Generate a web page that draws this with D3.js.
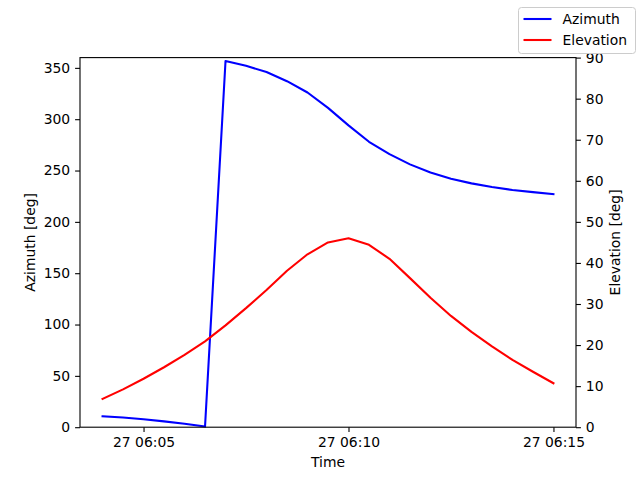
<!DOCTYPE html>
<html><head><meta charset="utf-8">
<script src="https://cdn.jsdelivr.net/npm/d3@7"></script>
<style>body{margin:0;background:#fff}svg{font-family:"DejaVu Sans",sans-serif}</style>
</head><body><svg id="c" width="640" height="480"></svg>
<script>
const startTime = "2024-01-27T06:04:00Z";
const stepSeconds = 30;
const azimuth = [10.6, 9.4, 7.8, 5.7, 3.4, 0.6, 356.7, 352, 346, 337, 326, 311, 294, 278, 266, 256, 248, 242, 237.5, 234, 231, 229, 227];
const elevation = [6.9, 9.2, 11.8, 14.6, 17.6, 20.9, 24.8, 29, 33.4, 38.1, 42.1, 45, 46, 44.4, 41, 36.3, 31.5, 27.1, 23.2, 19.7, 16.4, 13.5, 10.7];
const azTicks = [0, 50, 100, 150, 200, 250, 300, 350];
const elTicks = [0, 10, 20, 30, 40, 50, 60, 70, 80, 90];
const timeTickLabels = ["2024-01-27T06:05:00Z", "2024-01-27T06:10:00Z", "2024-01-27T06:15:00Z"];
const seriesNames = ["Azimuth", "Elevation"];
const seriesColors = ["#0000ff", "#ff0000"];

const t0 = new Date(startTime).getTime();
const times = azimuth.map((_, i) => new Date(t0 + i * stepSeconds * 1000));
const svg = d3.select("#c");
const L = 80, R = 576, T = 57.6, B = 427.2;
const span = times[times.length - 1] - times[0];
const x = d3.scaleUtc().domain([new Date(+times[0] - span * 0.05), new Date(+times[times.length - 1] + span * 0.05)]).range([L, R]);
const yA = d3.scaleLinear().domain([0, 360]).range([B, T]);
const yE = d3.scaleLinear().domain([0, 90]).range([B, T]);
const fs = "13.9px";

const lineA = d3.line().x((d, i) => x(times[i])).y(d => yA(d));
const lineE = d3.line().x((d, i) => x(times[i])).y(d => yE(d));
svg.append("path").attr("d", lineA(azimuth)).attr("fill", "none").attr("stroke", seriesColors[0]).attr("stroke-width", 2.08).attr("stroke-linejoin", "round").attr("stroke-linecap", "square");
svg.append("path").attr("d", lineE(elevation)).attr("fill", "none").attr("stroke", seriesColors[1]).attr("stroke-width", 2.08).attr("stroke-linejoin", "round").attr("stroke-linecap", "square");

function styleAxis(g) {
  g.select(".domain").remove();
  g.selectAll(".tick line").attr("stroke", "#000").attr("stroke-width", 1.1);
  g.selectAll(".tick text").attr("font-size", fs).attr("fill", "#000").attr("font-family", "DejaVu Sans");
}
const xAx = svg.append("g").attr("transform", `translate(0,${B})`)
  .call(d3.axisBottom(x).tickValues(timeTickLabels.map(s => new Date(s))).tickFormat(d3.utcFormat("%d %H:%M")).tickSize(4.9).tickPadding(4.9));
styleAxis(xAx);
const yAx = svg.append("g").attr("transform", `translate(${L},0)`)
  .call(d3.axisLeft(yA).tickValues(azTicks).tickSize(4.9).tickPadding(4.9));
styleAxis(yAx);
const yEx = svg.append("g").attr("transform", `translate(${R},0)`)
  .call(d3.axisRight(yE).tickValues(elTicks).tickSize(4.9).tickPadding(4.9));
styleAxis(yEx);

svg.append("rect").attr("x", L).attr("y", T).attr("width", R - L).attr("height", B - T).attr("fill", "none").attr("stroke", "#000").attr("stroke-width", 1.1);

svg.append("text").attr("x", (L + R) / 2).attr("y", 467).attr("text-anchor", "middle").attr("font-size", fs).text("Time");
svg.append("text").attr("transform", `translate(35,${(T + B) / 2}) rotate(-90)`).attr("text-anchor", "middle").attr("font-size", fs).text("Azimuth [deg]");
svg.append("text").attr("transform", `translate(620,${(T + B) / 2}) rotate(-90)`).attr("text-anchor", "middle").attr("font-size", fs).text("Elevation [deg]");

// legend
const lg = svg.append("g");
lg.append("rect").attr("x", 518.5).attr("y", 7.5).attr("width", 117).attr("height", 46).attr("rx", 3).attr("fill", "#fff").attr("fill-opacity", 0.8).attr("stroke", "#cccccc").attr("stroke-width", 1);
seriesNames.forEach((n, i) => {
  const yy = 19 + i * 21;
  lg.append("line").attr("x1", 523.5).attr("x2", 551.5).attr("y1", yy).attr("y2", yy).attr("stroke", seriesColors[i]).attr("stroke-width", 2.08);
  lg.append("text").attr("x", 562.5).attr("y", yy + 5).attr("font-size", fs).text(n);
});
</script></body></html>
